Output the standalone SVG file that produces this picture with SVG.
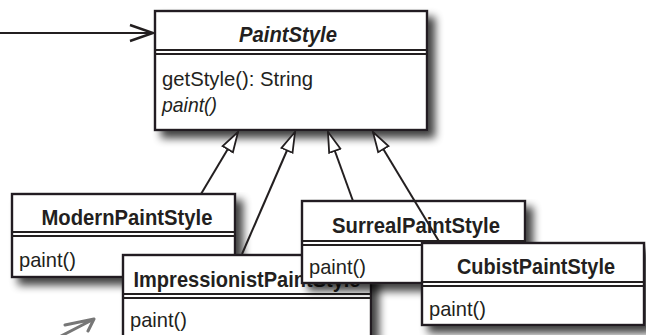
<svg xmlns="http://www.w3.org/2000/svg" width="646" height="335" viewBox="0 0 646 335">
<defs>
<filter id="sh" x="-10%" y="-10%" width="130%" height="140%">
<feGaussianBlur in="SourceAlpha" stdDeviation="4"/>
<feOffset dx="7" dy="7" result="b"/>
<feComponentTransfer in="b" result="c"><feFuncA type="linear" slope="0.75"/></feComponentTransfer>
<feMerge><feMergeNode in="c"/><feMergeNode in="SourceGraphic"/></feMerge>
</filter>
<marker id="tri" markerUnits="userSpaceOnUse" markerWidth="24" markerHeight="16" refX="21" refY="7" orient="auto" viewBox="0 0 24 14">
<path d="M1,1 L21,7 L1,13 Z" fill="#fff" stroke="#231f20" stroke-width="1.8" stroke-linejoin="miter"/>
</marker>
<marker id="open" markerUnits="userSpaceOnUse" markerWidth="28" markerHeight="22" refX="24" refY="10" orient="auto" viewBox="0 0 28 22">
<path d="M1,2 L24,10 L1,18" fill="none" stroke="#231f20" stroke-width="2.4"/>
</marker>
</defs>
<style>
.box{fill:#fff;stroke:#231f20;stroke-width:2.4}
.div{stroke:#231f20;stroke-width:2}
.t{font-family:"Liberation Sans",Arial,sans-serif;font-size:21px;fill:#231f20}
.b{font-weight:bold;font-size:22px}
.i{font-style:italic}
.c{text-anchor:middle}
.ln{stroke:#231f20;stroke-width:2;fill:none}
</style>

<g id="entry">
<line class="ln" x1="0" y1="33" x2="153" y2="33" marker-end="url(#open)"/>
</g>

<g id="PaintStyle">
<rect class="box" x="155" y="11" width="272" height="119" filter="url(#sh)"/>
<line class="div" x1="155" y1="50" x2="427" y2="50"/>
<line class="div" x1="155" y1="54" x2="427" y2="54"/>
<text class="t b i c" x="288" y="42" textLength="98" lengthAdjust="spacingAndGlyphs">PaintStyle</text>
<text class="t" x="162" y="86" textLength="151" lengthAdjust="spacingAndGlyphs">getStyle(): String</text>
<text class="t i" x="162" y="112" textLength="55" lengthAdjust="spacingAndGlyphs">paint()</text>
</g>

<g id="ModernPaintStyle">
<rect class="box" x="12" y="194" width="223" height="83" filter="url(#sh)"/>
<line class="div" x1="12" y1="232" x2="235" y2="232"/>
<line class="div" x1="12" y1="236" x2="235" y2="236"/>
<text class="t b c" x="127" y="225" textLength="171" lengthAdjust="spacingAndGlyphs">ModernPaintStyle</text>
<text class="t" x="19" y="267" textLength="57" lengthAdjust="spacingAndGlyphs">paint()</text>
</g>

<g id="ImpressionistPaintStyle">
<rect class="box" x="123" y="255" width="248" height="90" filter="url(#sh)"/>
<line class="div" x1="123" y1="294" x2="371" y2="294"/>
<line class="div" x1="123" y1="298" x2="371" y2="298"/>
<text class="t b c" x="247" y="287" textLength="227" lengthAdjust="spacingAndGlyphs">ImpressionistPaintStyle</text>
<text class="t" x="130" y="327" textLength="57" lengthAdjust="spacingAndGlyphs">paint()</text>
</g>

<g id="SurrealPaintStyle">
<rect class="box" x="302" y="201" width="223" height="82" filter="url(#sh)"/>
<line class="div" x1="302" y1="241" x2="525" y2="241"/>
<line class="div" x1="302" y1="245" x2="525" y2="245"/>
<text class="t b c" x="416" y="233" textLength="168" lengthAdjust="spacingAndGlyphs">SurrealPaintStyle</text>
<text class="t" x="309" y="274" textLength="57" lengthAdjust="spacingAndGlyphs">paint()</text>
</g>

<g id="connectors">
<line class="ln" x1="201" y1="194" x2="238" y2="132" marker-end="url(#tri)"/>
<line class="ln" x1="242" y1="254" x2="295" y2="132" marker-end="url(#tri)"/>
<line class="ln" x1="353" y1="201" x2="328" y2="132" marker-end="url(#tri)"/>
<line class="ln" x1="440" y1="243" x2="373" y2="132" marker-end="url(#tri)"/>
</g>

<g id="CubistPaintStyle">
<rect class="box" x="422" y="243" width="222" height="82" filter="url(#sh)"/>
<line class="div" x1="422" y1="282" x2="644" y2="282"/>
<line class="div" x1="422" y1="286" x2="644" y2="286"/>
<text class="t b c" x="536" y="274" textLength="158" lengthAdjust="spacingAndGlyphs">CubistPaintStyle</text>
<text class="t" x="429" y="316" textLength="57" lengthAdjust="spacingAndGlyphs">paint()</text>
</g>

<g id="sketch-arrow">
<path d="M65,325 L94,319 L61,336 M94,319 L88,331" fill="none" stroke="#777" stroke-width="3" stroke-linecap="round" stroke-linejoin="round"/>
</g>
</svg>
